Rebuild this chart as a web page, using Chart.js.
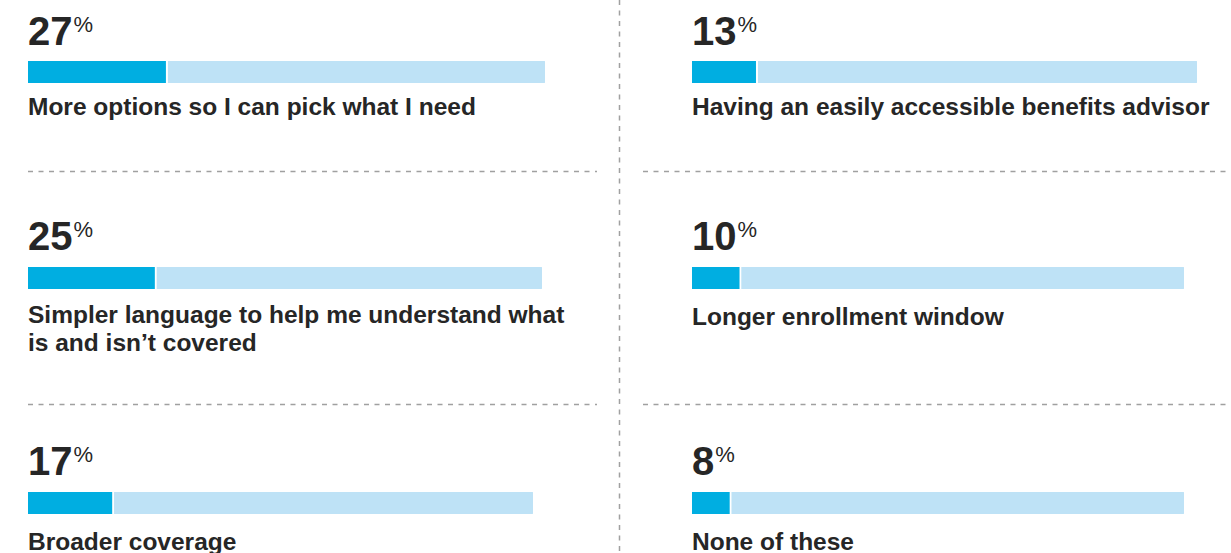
<!DOCTYPE html>
<html>
<head>
<meta charset="utf-8">
<script src="https://cdn.jsdelivr.net/npm/chart.js@4.4.1/dist/chart.umd.min.js"></script>
<style>
  html, body { margin: 0; padding: 0; background: #ffffff; }
  #stage { position: relative; width: 1231px; height: 553px; overflow: hidden; background: #ffffff;
           font-family: "Liberation Sans", Arial, Helvetica, sans-serif; color: #262626; }
  .num { position: absolute; font-size: 40px; line-height: 40px; font-weight: bold; white-space: nowrap; }
  .num .pct { font-size: 22px; font-weight: normal; position: relative; top: -13.5px; margin-left: 1px; line-height: 22px; }
  .lbl { position: absolute; font-size: 24.5px; line-height: 28px; font-weight: bold; }
  .barbox { position: absolute; height: 22px; }
  svg.rules { position: absolute; left: 0; top: 0; }
</style>
</head>
<body>
<div id="stage">
  <svg class="rules" width="1231" height="553">
    <g stroke="#a0a0a0" stroke-width="1.5" stroke-dasharray="5 5.5" fill="none">
      <line x1="28" y1="171.5" x2="597" y2="171.5"/>
      <line x1="643" y1="171.5" x2="1231" y2="171.5"/>
      <line x1="28" y1="404.5" x2="597" y2="404.5"/>
      <line x1="643" y1="404.5" x2="1231" y2="404.5"/>
      <line x1="619.5" y1="0" x2="619.5" y2="553"/>
    </g>
  </svg>
</div>
<script>
// ---- data ----
const categories = [
  "More options so I can pick what I need",
  "Simpler language to help me understand what is and isn’t covered",
  "Broader coverage",
  "Having an easily accessible benefits advisor",
  "Longer enrollment window",
  "None of these"
];
const values = [27, 25, 17, 13, 10, 8];
const scaleMax = 100;

// ---- layout (positions only) ----
const panelCol = [0, 0, 0, 1, 1, 1];
const panelRow = [0, 1, 2, 0, 1, 2];
const colX = [28, 692];
const numBaseline = [45, 250, 475];
const barTop = [61, 267, 492];
const lblBaseline = [[115, 323, 550], [115, 325, 550]];
const trackWidth = [517, 514, 505, 505, 492, 492];
const lblWidth = [550, 560];

const DARK = "#00aee1";
const LIGHT = "#bee2f6";

const stage = document.getElementById("stage");

categories.forEach((cat, i) => {
  const c = panelCol[i], r = panelRow[i];
  const x = colX[c];

  // value number
  const num = document.createElement("div");
  num.className = "num";
  num.style.left = x + "px";
  num.style.top = (numBaseline[r] - 0.8465 * 40) + "px";
  num.innerHTML = values[i] + '<span class="pct">%</span>';
  stage.appendChild(num);

  // label
  const lbl = document.createElement("div");
  lbl.className = "lbl";
  lbl.style.left = x + "px";
  lbl.style.width = lblWidth[c] + "px";
  lbl.style.top = (lblBaseline[c][r] - 22.5) + "px";
  lbl.textContent = cat;
  stage.appendChild(lbl);

  // bar chart
  const box = document.createElement("div");
  box.className = "barbox";
  box.style.left = x + "px";
  box.style.top = barTop[r] + "px";
  box.style.width = trackWidth[i] + "px";
  const cv = document.createElement("canvas");
  cv.width = trackWidth[i];
  cv.height = 22;
  box.appendChild(cv);
  stage.appendChild(box);

  new Chart(cv, {
    type: "bar",
    data: {
      labels: [cat],
      datasets: [
        {
          data: [values[i]],
          backgroundColor: DARK,
          borderColor: "#ffffff",
          borderWidth: { top: 0, right: 2, bottom: 0, left: 0 },
          borderSkipped: "start",
          grouped: false,
          barPercentage: 1,
          categoryPercentage: 1
        },
        {
          data: [scaleMax],
          backgroundColor: LIGHT,
          borderWidth: 0,
          borderSkipped: false,
          borderRadius: { topLeft: 0, bottomLeft: 0, topRight: 2, bottomRight: 2 },
          grouped: false,
          barPercentage: 1,
          categoryPercentage: 1
        }
      ]
    },
    options: {
      indexAxis: "y",
      responsive: false,
      animation: false,
      devicePixelRatio: 1,
      layout: { padding: 0 },
      plugins: { legend: { display: false }, tooltip: { enabled: false } },
      scales: {
        x: { display: false, min: 0, max: scaleMax },
        y: { display: false }
      }
    }
  });
});
</script>
</body>
</html>
